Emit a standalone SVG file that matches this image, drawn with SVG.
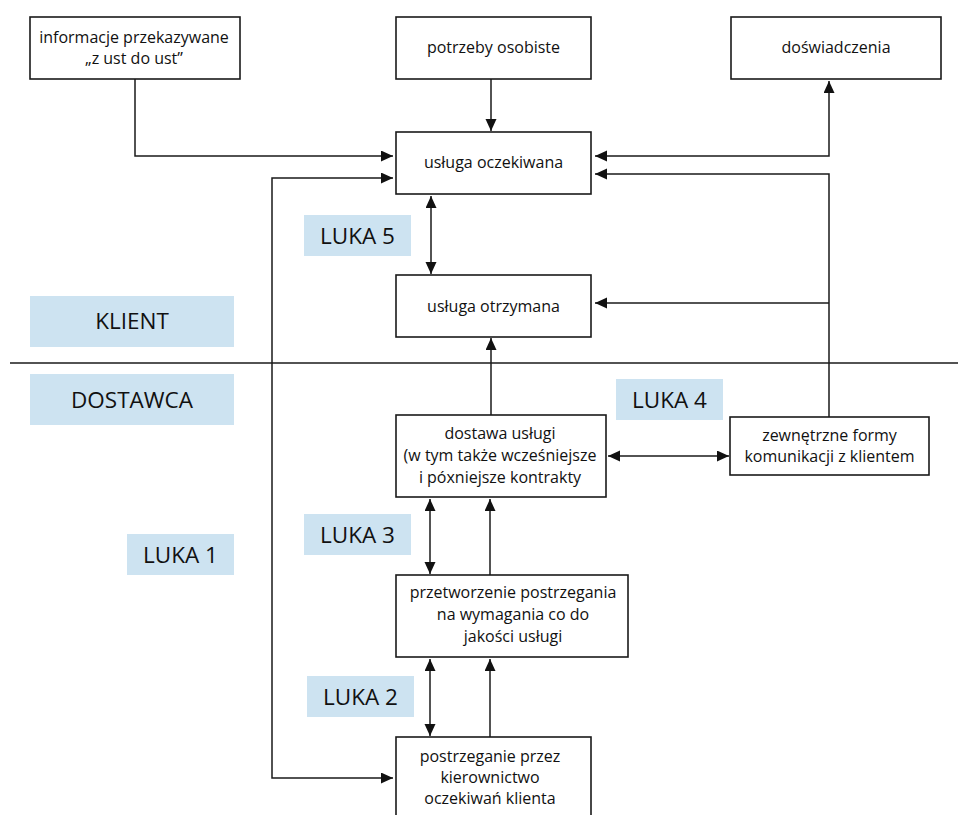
<svg xmlns="http://www.w3.org/2000/svg" width="958" height="815" viewBox="0 0 958 815">
<style>
.box{fill:#fff;stroke:#1a1a1a;stroke-width:1.6}
.lab{fill:#cde3f1}
.t{font-family:"Open Sans","Liberation Sans",sans-serif;font-size:16px;fill:#111;text-anchor:middle}
.lt{font-family:"Open Sans","Liberation Sans",sans-serif;font-size:22.5px;fill:#111;text-anchor:middle}
.c{fill:none;stroke:#1a1a1a;stroke-width:1.5}
.a{marker-end:url(#ah)}
.b{marker-start:url(#ah);marker-end:url(#ah)}
</style>
<defs>
<marker id="ah" markerUnits="userSpaceOnUse" markerWidth="13" markerHeight="12" refX="12" refY="5.5" orient="auto-start-reverse">
<path d="M0,0 L12,5.5 L0,11 z" fill="#111"/>
</marker>
</defs>

<g id="labels">
<g id="klient"><rect class="lab" x="30" y="296" width="204" height="51"/><text class="lt" x="132" y="329">KLIENT</text></g>
<g id="dostawca"><rect class="lab" x="30" y="374" width="204" height="51"/><text class="lt" x="132" y="408">DOSTAWCA</text></g>
<g id="luka5"><rect class="lab" x="304" y="215" width="107" height="41"/><text class="lt" x="357.5" y="244">LUKA 5</text></g>
<g id="luka4"><rect class="lab" x="616" y="379" width="107" height="41"/><text class="lt" x="669.5" y="408">LUKA 4</text></g>
<g id="luka3"><rect class="lab" x="304" y="514" width="107" height="41"/><text class="lt" x="357.5" y="543">LUKA 3</text></g>
<g id="luka1"><rect class="lab" x="127" y="534" width="107" height="41"/><text class="lt" x="180.5" y="563">LUKA 1</text></g>
<g id="luka2"><rect class="lab" x="307" y="676" width="107" height="41"/><text class="lt" x="360.5" y="705">LUKA 2</text></g>
</g>

<g id="connectors">
<path class="c" d="M10,363 H958"/>
<path class="c a" d="M135,79 V156 H393"/>
<path class="c a" d="M491,79 V131"/>
<path class="c b" d="M595,156 H829 V81"/>
<path class="c a" d="M829,417 V174 H595"/>
<path class="c a" d="M829,303 H595"/>
<path class="c a" d="M491,415 V338"/>
<path class="c b" d="M431,196 V274"/>
<path class="c b" d="M393,178 H272 V778 H393"/>
<path class="c b" d="M608,456 H729"/>
<path class="c b" d="M430,499 V574"/>
<path class="c a" d="M490,575 V499"/>
<path class="c b" d="M430,659 V736"/>
<path class="c a" d="M490,737 V659"/>
</g>

<g id="n-informacje"><rect class="box" x="30" y="17" width="210" height="62"/><text class="t" x="134" y="43">informacje przekazywane</text><text class="t" x="134" y="64">„z ust do ust”</text></g>
<g id="n-potrzeby"><rect class="box" x="396" y="17" width="195" height="62"/><text class="t" x="493.5" y="53">potrzeby osobiste</text></g>
<g id="n-doswiadczenia"><rect class="box" x="731" y="17" width="210" height="62"/><text class="t" x="836" y="53">doświadczenia</text></g>
<g id="n-oczekiwana"><rect class="box" x="396" y="132" width="195" height="62"/><text class="t" x="493.5" y="168">usługa oczekiwana</text></g>
<g id="n-otrzymana"><rect class="box" x="396" y="275" width="195" height="62"/><text class="t" x="493.5" y="312">usługa otrzymana</text></g>
<g id="n-dostawa"><rect class="box" x="396" y="415" width="210" height="82"/><text class="t" x="500" y="439">dostawa usługi</text><text class="t" x="500" y="461">(w tym także wcześniejsze</text><text class="t" x="500" y="483">i póxniejsze kontrakty</text></g>
<g id="n-zewnetrzne"><rect class="box" x="730" y="417" width="199" height="58"/><text class="t" x="829.5" y="441">zewnętrzne formy</text><text class="t" x="829.5" y="462">komunikacji z klientem</text></g>
<g id="n-przetworzenie"><rect class="box" x="396" y="575" width="232" height="82"/><text class="t" x="513" y="598">przetworzenie postrzegania</text><text class="t" x="513" y="620">na wymagania co do</text><text class="t" x="513" y="642">jakości usługi</text></g>
<g id="n-postrzeganie"><rect class="box" x="396" y="737" width="195" height="90"/><text class="t" x="490" y="762">postrzeganie przez</text><text class="t" x="490" y="783">kierownictwo</text><text class="t" x="490" y="804">oczekiwań klienta</text></g>
</svg>
